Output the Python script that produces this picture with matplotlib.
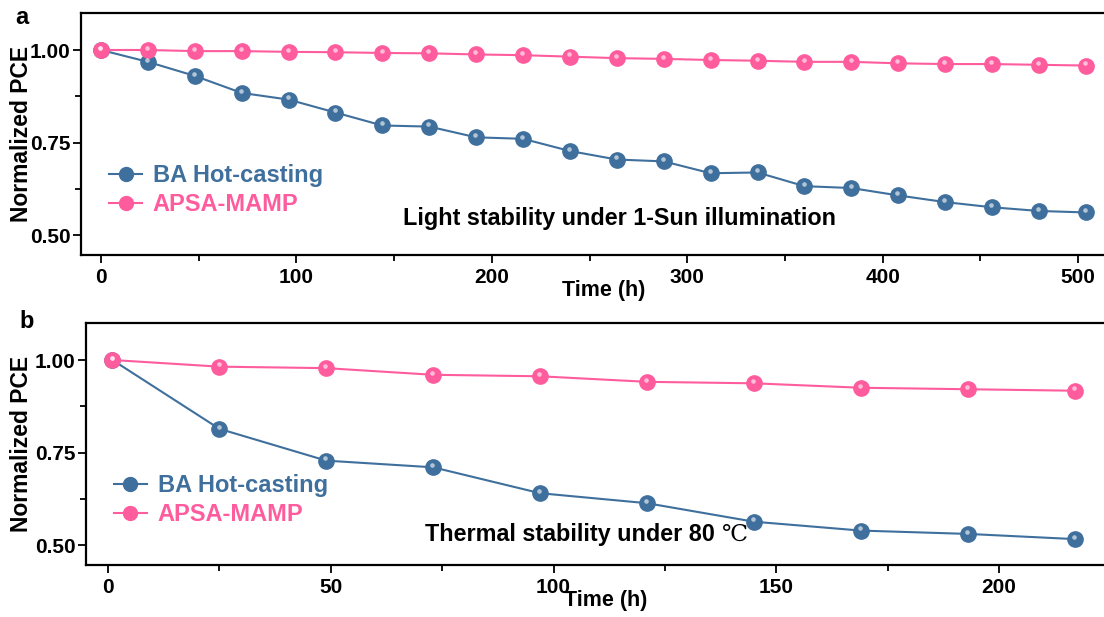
import numpy as np
import matplotlib
matplotlib.use("Agg")
import matplotlib.pyplot as plt
from matplotlib.ticker import MultipleLocator, FormatStrFormatter
from matplotlib.transforms import offset_copy
from matplotlib.lines import Line2D

plt.rcParams["font.family"] = ["Liberation Sans", "DejaVu Sans"]
plt.rcParams["font.weight"] = "bold"

# panel a: light stability (1-Sun)
time_a = [0, 24, 48, 72, 96, 120, 144, 168, 192, 216, 240, 264, 288, 312, 336,
          360, 384, 408, 432, 456, 480, 504]
ba_a = [1.000, 0.968, 0.930, 0.884, 0.866, 0.831, 0.796, 0.793, 0.764, 0.760,
        0.727, 0.704, 0.699, 0.667, 0.669, 0.632, 0.627, 0.607, 0.589, 0.575,
        0.565, 0.561]
apsa_a = [1.000, 1.000, 0.997, 0.997, 0.995, 0.994, 0.992, 0.991, 0.988, 0.986,
          0.982, 0.978, 0.976, 0.973, 0.971, 0.968, 0.968, 0.964, 0.962, 0.962,
          0.960, 0.958]

# panel b: thermal stability (80 C)
time_b = [1, 25, 49, 73, 97, 121, 145, 169, 193, 217]
ba_b = [1.000, 0.814, 0.728, 0.710, 0.640, 0.613, 0.563, 0.539, 0.530, 0.516]
apsa_b = [1.000, 0.982, 0.978, 0.960, 0.956, 0.941, 0.937, 0.925, 0.921, 0.917]

labels = ["BA Hot-casting", "APSA-MAMP"]
blue = "#3f6f9c"
pink = "#ff5c9e"

fig = plt.figure(figsize=(11.04, 6.17), dpi=100)
ax_a = fig.add_axes([81 / 1104, 1 - 255 / 617, 1.02 - 81 / 1104, 242 / 617])
ax_b = fig.add_axes([86 / 1104, 1 - 565 / 617, 1.02 - 86 / 1104, 242 / 617])


def sphere_line(ax, x, y, color, ms=11):
    ax.plot(x, y, "-", color=color, lw=1.5, marker="o", ms=ms,
            mfc=color, mec=color, zorder=3)
    # little highlight to mimic the shaded spheres
    tr = offset_copy(ax.transData, fig=fig, x=-0.6, y=1.6, units="points")
    ax.plot(x, y, "o", ms=ms * 0.3, color="white", alpha=0.6,
            mec="none", transform=tr, zorder=4)


def style_axes(ax, xlim, major, minor, label_pad, ylab_x):
    ax.set_xlim(*xlim)
    ax.set_ylim(0.446, 1.10)
    ax.xaxis.set_major_locator(MultipleLocator(major))
    ax.xaxis.set_minor_locator(MultipleLocator(minor))
    ax.yaxis.set_major_locator(MultipleLocator(0.25))
    ax.yaxis.set_minor_locator(MultipleLocator(0.125))
    ax.yaxis.set_major_formatter(FormatStrFormatter("%.2f"))
    ax.tick_params(which="both", direction="out", width=1.3, labelsize=15)
    ax.tick_params(which="major", length=6)
    ax.tick_params(axis="y", which="major", pad=1.5)
    ax.tick_params(which="minor", length=4)
    ax.spines["right"].set_visible(False)
    for s in ["left", "top", "bottom"]:
        ax.spines[s].set_linewidth(1.6)
    ax.set_ylabel("Normalized PCE", fontsize=16.5, fontweight="bold")
    ax.yaxis.set_label_coords(ylab_x, 0.5)
    ax.set_xlabel("Time (h)", fontsize=15.5, fontweight="bold", labelpad=label_pad)
    for t in ax.get_xticklabels() + ax.get_yticklabels():
        t.set_fontweight("bold")


# panel a
sphere_line(ax_a, time_a, ba_a, blue)
sphere_line(ax_a, time_a, apsa_a, pink)
xa_min = -20 / 1.954
xa_max = (1.02 * 1104 - 101) / 1.954
style_axes(ax_a, (xa_min, xa_max), 100, 50, -5, -0.046)
ax_a.text(0.308, 0.149, "Light stability under 1-Sun illumination",
          transform=ax_a.transAxes, fontsize=16.8, fontweight="bold",
          va="center", ha="left")

# panel b
sphere_line(ax_b, time_b, ba_b, blue)
sphere_line(ax_b, time_b, apsa_b, pink)
xb_min = -22 / 4.455
xb_max = (1.02 * 1104 - 108) / 4.455
style_axes(ax_b, (xb_min, xb_max), 50, 25, -5, -0.051)
t80 = ax_b.text(0.326, 0.124, "Thermal stability under 80 ",
                transform=ax_b.transAxes, fontsize=16.8, fontweight="bold",
                va="center", ha="left")
ax_b.annotate("\u2103", xy=(1, 0.5), xycoords=t80, va="center", ha="left",
              fontsize=16.8, fontweight="normal", family=["DejaVu Serif", "DejaVu Sans"])

# legends
handles = [Line2D([], [], color=blue, lw=1.5, marker="o", ms=10),
           Line2D([], [], color=pink, lw=1.5, marker="o", ms=10)]
for ax, x0 in [(ax_a, 0.011), (ax_b, 0.011)]:
    leg = ax.legend(handles, labels, loc="center left",
                    bbox_to_anchor=(x0, 0.268),
                    frameon=False, fontsize=17, handlelength=1.4,
                    handletextpad=0.45, labelspacing=0.25, borderaxespad=0.3)
    for txt, c in zip(leg.get_texts(), [blue, pink]):
        txt.set_color(c)
        txt.set_fontweight("bold")

fig.text(22 / 1104, 1 - 18 / 617, "a", fontsize=17, fontweight="bold",
         ha="center", va="center")
fig.text(27 / 1104, 1 - 322 / 617, "b", fontsize=17, fontweight="bold",
         ha="center", va="center")

fig.savefig("out.png", dpi=100)
